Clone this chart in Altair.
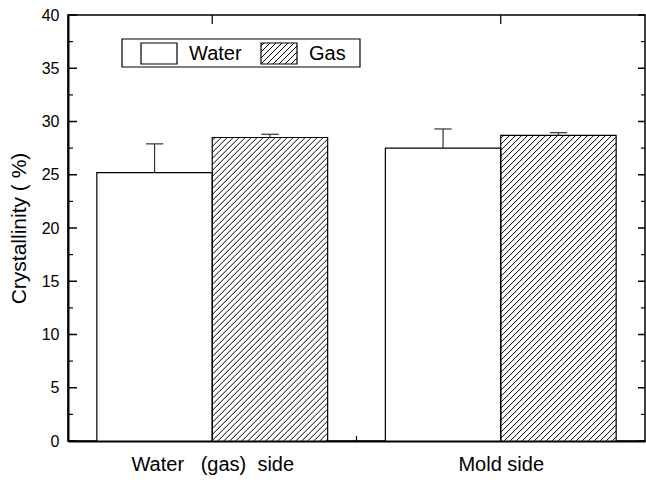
import altair as alt
import numpy as np
import pandas as pd

# ---- data ----
groups = ["Water\u00a0\u00a0\u00a0(gas)\u00a0\u00a0side", "Mold side"]
series = ["Water", "Gas"]
water_vals = [25.2, 27.5]
water_err = [2.7, 1.8]
gas_vals = [28.5, 28.7]
gas_err = [0.3, 0.25]
y_ticks_major = [0, 5, 10, 15, 20, 25, 30, 35, 40]
y_ticks_minor = [2.5, 7.5, 12.5, 17.5, 22.5, 27.5, 32.5, 37.5]

# ---- layout ----
W, H = 577, 426
X_MAX, Y_MAX = 5.0, 40.0
SX, SY = W / X_MAX, H / Y_MAX          # pixels per data unit
centers = [1.25, 3.75]                 # group centres on the x scale
BAR_W = 1.0
CAP = 0.075
FONT = "Liberation Sans, Arial, Helvetica, sans-serif"

xs = alt.Scale(domain=[0, X_MAX], nice=False, zero=False)
ys = alt.Scale(domain=[0, Y_MAX], nice=False, zero=False)

X_AXIS = alt.Axis(values=centers, ticks=False, grid=False, title=None,
                  labelExpr=f"datum.value < 2.5 ? '{groups[0]}' : '{groups[1]}'",
                  labelFontSize=20, labelPadding=13, labelColor="black",
                  labelFont=FONT, domainColor="black", domainWidth=2)
Y_AXIS = alt.Axis(values=y_ticks_major, ticks=False, grid=False,
                  title="Crystallinity ( %)", titleFontSize=21,
                  titleFontWeight="normal", titleFont=FONT, titleColor="black",
                  titlePadding=12, labelFontSize=16, labelPadding=9,
                  labelColor="black", labelFont=FONT,
                  domainColor="black", domainWidth=2)


def X(field):
    return alt.X(field, scale=xs, axis=X_AXIS)


def Y(field):
    return alt.Y(field, scale=ys, axis=Y_AXIS)


rows = []
for g, c, wv, we, gv, ge in zip(groups, centers, water_vals, water_err, gas_vals, gas_err):
    rows.append(dict(group=g, series=series[0], x0=c - BAR_W, x1=c, xm=c - BAR_W / 2,
                     val=wv, err_hi=wv + we))
    rows.append(dict(group=g, series=series[1], x0=c, x1=c + BAR_W, xm=c + BAR_W / 2,
                     val=gv, err_hi=gv + ge))
bars = pd.DataFrame(rows)
bars["zero"] = 0.0
bars["cl"] = bars["xm"] - CAP
bars["cr"] = bars["xm"] + CAP


def hatch_segments(px0, px1, h, step=6.0):
    """45-degree '/' lines clipped to the box [px0, px1] x [0, h] (pixels, y up)."""
    segs = []
    for c in np.arange(px0 - h + step / 2, px1, step):
        s = max(px0, c)
        e = min(px1, c + h)
        if e > s:
            segs.append((s, s - c, e, e - c))
    return segs


hrows = []
for _, r in bars[bars["series"] == "Gas"].iterrows():
    for a, b, c2, d in hatch_segments(r.x0 * SX, r.x1 * SX, r.val * SY):
        hrows.append(dict(hx=a / SX, hy=b / SY, hx2=c2 / SX, hy2=d / SY))
hatch = pd.DataFrame(hrows)

# ---- bars ----
base = alt.Chart(bars)

fill_layer = base.mark_rect(fill="white", stroke=None).encode(
    x=X("x0:Q"), x2="x1:Q", y=Y("zero:Q"), y2="val:Q")

hatch_layer = alt.Chart(hatch).mark_rule(color="black", strokeWidth=1).encode(
    x=X("hx:Q"), y=Y("hy:Q"), x2="hx2:Q", y2="hy2:Q")

outline_layer = base.mark_rect(fill=None, stroke="black", strokeWidth=1.2).encode(
    x=X("x0:Q"), x2="x1:Q", y=Y("zero:Q"), y2="val:Q")

err_layer = base.mark_rule(color="#333", strokeWidth=1.2).encode(
    x=X("xm:Q"), y=Y("val:Q"), y2="err_hi:Q")
cap_layer = base.mark_rule(color="#333", strokeWidth=1.2).encode(
    x=X("cl:Q"), x2="cr:Q", y=Y("err_hi:Q"))

# ---- inward ticks on all four sides ----
tick_df = pd.DataFrame({"v": y_ticks_major + y_ticks_minor,
                        "major": [1] * len(y_ticks_major) + [0] * len(y_ticks_minor)})
major_df = tick_df[tick_df.major == 1]
minor_df = tick_df[tick_df.major == 0]
left_major = alt.Chart(major_df).mark_rule(color="black", strokeWidth=1.5).encode(
    y=Y("v:Q"), x=alt.value(0), x2=alt.value(9))
left_minor = alt.Chart(minor_df).mark_rule(color="black", strokeWidth=1.2).encode(
    y=Y("v:Q"), x=alt.value(0), x2=alt.value(5))
right_major = alt.Chart(major_df).mark_rule(color="black", strokeWidth=1.5).encode(
    y=Y("v:Q"), x=alt.value(W - 7), x2=alt.value(W))
right_minor = alt.Chart(minor_df).mark_rule(color="black", strokeWidth=1.2).encode(
    y=Y("v:Q"), x=alt.value(W - 4), x2=alt.value(W))

xt_df = pd.DataFrame({"c": centers})
top_ticks = alt.Chart(xt_df).mark_rule(color="black", strokeWidth=1.2).encode(
    x=X("c:Q"), y=alt.value(0), y2=alt.value(9))
mid_df = pd.DataFrame({"m": [sum(centers) / 2]})
bottom_tick = alt.Chart(mid_df).mark_rule(color="black", strokeWidth=1.2).encode(
    x=X("m:Q"), y=alt.value(H - 5), y2=alt.value(H))

# ---- legend box, drawn on the shared scales (positions given in pixels) ----
def dx(px):
    return px / SX


def dy(py):
    return (H - py) / SY


LX0, LX1, LY0, LY1 = 54, 292, 24, 52
SW_W, SW_Y0, SW_Y1 = 36, 28, 49
sw_x = [73, 193]

leg_box = alt.Chart(pd.DataFrame({"a": [dx(LX0)], "b": [dx(LX1)],
                                  "c": [dy(LY0)], "d": [dy(LY1)]})).mark_rect(
    fill="white", stroke="black", strokeWidth=1.2).encode(
    x=X("a:Q"), x2="b:Q", y=Y("c:Q"), y2="d:Q")

sw_df = pd.DataFrame({"sx0": [dx(v) for v in sw_x],
                      "sx1": [dx(v + SW_W) for v in sw_x],
                      "sy0": dy(SW_Y0), "sy1": dy(SW_Y1),
                      "tx": [dx(v + SW_W + 12) for v in sw_x],
                      "ty": dy((SW_Y0 + SW_Y1) / 2),
                      "label": series})

lh = []
for a, b, c2, d in hatch_segments(sw_x[1], sw_x[1] + SW_W, SW_Y1 - SW_Y0, step=6.0):
    lh.append(dict(lx=dx(a), ly=dy(SW_Y1 - b), lx2=dx(c2), ly2=dy(SW_Y1 - d)))
leg_hatch = alt.Chart(pd.DataFrame(lh)).mark_rule(color="black", strokeWidth=1).encode(
    x=X("lx:Q"), y=Y("ly:Q"), x2="lx2:Q", y2="ly2:Q")
leg_sw = alt.Chart(sw_df).mark_rect(fill=None, stroke="black", strokeWidth=1.2).encode(
    x=X("sx0:Q"), x2="sx1:Q", y=Y("sy0:Q"), y2="sy1:Q")
leg_txt = alt.Chart(sw_df).mark_text(align="left", baseline="middle", fontSize=20,
                                     font=FONT, color="black").encode(
    x=X("tx:Q"), y=Y("ty:Q"), text="label:N")

chart = alt.layer(
    fill_layer, hatch_layer, outline_layer, err_layer, cap_layer,
    left_major, left_minor, right_major, right_minor, top_ticks, bottom_tick,
    leg_box, leg_hatch, leg_sw, leg_txt,
).properties(
    width=W, height=H,
    autosize=alt.AutoSizeParams(type="none"),
    padding={"left": 68, "top": 15, "right": 1, "bottom": 39},
    background="white",
).configure_view(stroke="black", strokeWidth=1.5)

chart.save("out.html", embed_options={"renderer": "svg", "actions": False})
